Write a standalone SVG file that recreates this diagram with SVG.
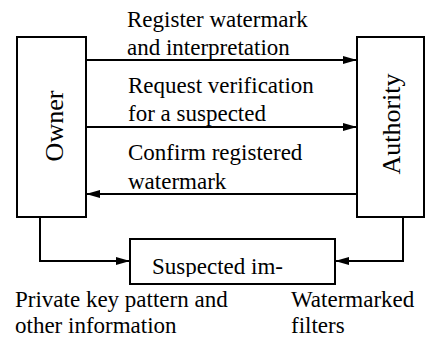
<svg xmlns="http://www.w3.org/2000/svg" width="425" height="342" viewBox="0 0 425 342">
<defs>
<marker id="ah" markerUnits="userSpaceOnUse" markerWidth="14" markerHeight="8" refX="14" refY="4" orient="auto">
<path d="M0,0 L14,4 L0,8 z" fill="#000"/>
</marker>
<clipPath id="clipS"><rect x="131" y="240" width="203" height="37"/></clipPath>
</defs>
<g id="connectors" fill="none" stroke="#000" stroke-width="2">
<path d="M86,60 H357" marker-end="url(#ah)"/>
<path d="M86,127 H357" marker-end="url(#ah)"/>
<path d="M357,194 H86" marker-end="url(#ah)"/>
<path d="M40,217 V261 H130" marker-end="url(#ah)"/>
<path d="M403,217 V261 H335" marker-end="url(#ah)"/>
</g>
<g id="connector-labels" font-family="Liberation Serif" font-size="23" fill="#000">
<text x="127" y="27">Register watermark</text>
<text x="127" y="55">and interpretation</text>
<text x="128" y="93">Request verification</text>
<text x="128" y="121">for a suspected</text>
<text x="128" y="160">Confirm registered</text>
<text x="128" y="189">watermark</text>
</g>
<g id="owner">
<rect x="17" y="37" width="69" height="180" fill="#fff" stroke="#000" stroke-width="2"/>
<g transform="translate(63,126) rotate(-90)">
<text x="0" y="0" font-family="Liberation Serif" font-size="26" text-anchor="middle" fill="#000">Owner</text>
</g>
</g>
<g id="authority">
<rect x="357" y="37" width="67" height="180" fill="#fff" stroke="#000" stroke-width="2"/>
<g transform="translate(400,124) rotate(-90)">
<text x="0" y="0" font-family="Liberation Serif" font-size="26" text-anchor="middle" fill="#000">Authority</text>
</g>
</g>
<g id="suspected">
<rect x="130" y="239" width="205" height="45" fill="#fff" stroke="#000" stroke-width="2"/>
<g clip-path="url(#clipS)">
<text x="152" y="274" font-family="Liberation Serif" font-size="23" fill="#000">Suspected im-</text>
</g>
</g>
<g id="labels" font-family="Liberation Serif" font-size="23" fill="#000">
<text x="15" y="307">Private key pattern and</text>
<text x="15" y="333">other information</text>
<text x="291" y="307">Watermarked</text>
<text x="291" y="333">filters</text>
</g>
</svg>
